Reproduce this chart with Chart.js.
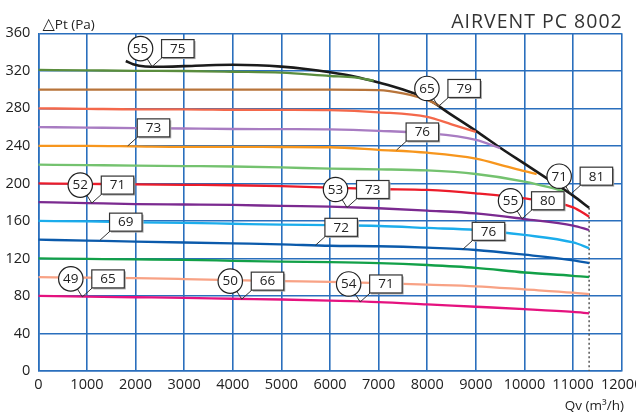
<!DOCTYPE html>
<html>
<head>
<meta charset="utf-8">
<script src="https://cdn.jsdelivr.net/npm/chart.js@4.4.1/dist/chart.umd.min.js"></script>
<style>
html,body{margin:0;padding:0;background:#fff;overflow:hidden;}
#wrap{width:636px;height:412px;overflow:hidden;position:relative;}
#inner{width:660px;height:412px;}
canvas{display:block;}
</style>
</head>
<body>
<div id="wrap"><div id="inner"><canvas id="c" width="660" height="412" style="width:660px;height:412px"></canvas></div></div>
<script>
// ---- data (Qv m3/h, dPt Pa) ----
const qFull = [0,1000,2000,3000,4000,5000,6000,7000,8000,9000,10000,11000,11330];
const pMagenta   = [80,79.2,78.6,78,77,76.2,75,73.5,71,68.5,66,63,61.5];
const pSalmon    = [100,99.5,99,98,96.8,95.8,95,93.6,92,90.3,87,83.5,81.8];
const pGreen     = [120,119.5,119,118.5,117.5,116.5,116,115,113,110,105,101.5,100];
const pDarkBlue  = [140,139,138,137,136,135,133.5,133,131.5,129,124,118,115];
const pLightBlue = [160,159.5,158.5,158,157,156,155.5,154.6,152.5,150.3,145,137,131];
const pPurple    = [180,179,178,177.5,177,176,175.2,173.5,171,168,162,155,150.3];
const pRed       = [200,199.5,199,198.5,198,197,195.5,194,193,189.4,184,174.5,164.5];

const qLightGreen = [0,1000,2000,3000,4000,5000,6000,7000,8000,9000,10000,10500,10800];
const pLightGreen = [220,219.5,219,218.5,218,217,215.7,215,213.8,210,202,196,191.5];

const qOrange = [0,1000,2000,3000,4000,5000,6000,7000,8000,9000,9600,10000,10250];
const pOrange = [240,240,239.5,239,239,238.8,238.5,235.8,232.7,226.5,218.5,213,210];

const qLavender = [0,1000,2000,3000,4000,5000,6000,7000,8000,9000,9500];
const pLavender = [260,259.5,259,258.5,258,257.8,257.5,256,253.5,246.5,237.5];

const qTomato = [0,1000,2000,3000,4000,5000,6000,7000,8000,8500,9000];
const pTomato = [280,279.5,279,279,278.5,278.3,278,275.8,271,263,255];

const qBrown = [0,1000,2000,3000,4000,5000,6000,7000,7500,8000,8250];
const pBrown = [300,300,300,300,300,300,300,299.5,296,289,282.5];

const qOlive = [0,1000,2000,3000,4000,5000,6000,6500,6900];
const pOlive = [321,320.5,320,319.8,319,318,314.5,313,309.5];

const qBlack = [1800,1950,2200,2500,3000,3500,4000,4500,5000,5500,6000,6500,7000,7500,8000,8500,9000,9500,10000,10500,11000,11330];
const pBlack = [330.5,327,324.6,324.3,325,326,326.5,326,324.5,322,318.5,314,307.5,300,290,273,256,238,221,204,187,174];

const qMax = [11330,11330];
const pMax = [174,0];

// callouts: circle value + box value pointing at a curve point
const calloutCircle = [55,65,52,53,55,71,49,50,54];
const calloutBox    = [75,79,71,73,80,81,65,66,71];
const calloutQ      = [2340,8230,1100,6350,9950,10950,905,4185,6620];
const calloutP      = [324.5,282,179,174.3,162.3,188.5,79,76.6,73.6];
// single boxes
const boxValue = [73,76,69,72,76];
const boxQ     = [1840,7370,1270,5700,8730];
const boxP     = [240,235.6,139.5,134,129.7];

const xTicks = [0,1000,2000,3000,4000,5000,6000,7000,8000,9000,10000,11000,12000];
const yTicks = [0,40,80,120,160,200,240,280,320,360];

const title = 'AIRVENT PC 8002';
const yTitleSym = '\u25B3';
const yTitle = 'Pt (Pa)';
const xTitle = 'Qv (m\u00B3/h)';

function pts(xs, ys){ return xs.map((x,i)=>({x:x,y:ys[i]})); }
function ds(label, xs, ys, color, w){
  return {label:label, data:pts(xs,ys), borderColor:color, borderWidth:w||2.3,
    pointRadius:0, fill:false, cubicInterpolationMode:'monotone'};
}

const GRID = '#2a6fbd';
const FONT = '"Open Sans", "DejaVu Sans", sans-serif';

const annot = {
  id:'annot',
  afterDatasetsDraw(chart){
    const ctx = chart.ctx, xs = chart.scales.x, ys = chart.scales.y;
    ctx.save();
    ctx.font = '13.5px ' + FONT;
    ctx.textAlign = 'center';
    ctx.textBaseline = 'middle';
    function drawBox(px, py, val){
      const bx = px + 9.5, by = py - 27, bw = 32.5, bh = 18;
      ctx.fillStyle = '#a8a8a8';
      ctx.fillRect(bx+1.5, by+1.5, bw, bh);
      ctx.fillStyle = '#fff';
      ctx.fillRect(bx, by, bw, bh);
      ctx.strokeStyle = '#333'; ctx.lineWidth = 1.2;
      ctx.strokeRect(bx, by, bw, bh);
      ctx.fillStyle = '#222';
      ctx.fillText(String(val), bx + bw/2, by + bh/2 + 0.5);
    }
    function drawCircle(px, py, val){
      const cx = px - 11.5, cy = py - 18;
      ctx.beginPath(); ctx.arc(cx, cy, 12.2, 0, Math.PI*2);
      ctx.fillStyle = '#fff'; ctx.fill();
      ctx.strokeStyle = '#222'; ctx.lineWidth = 1.2; ctx.stroke();
      ctx.fillStyle = '#222';
      ctx.fillText(String(val), cx, cy + 0.5);
    }
    for (let i=0;i<calloutCircle.length;i++){
      const px = xs.getPixelForValue(calloutQ[i]), py = ys.getPixelForValue(calloutP[i]);
      ctx.beginPath();
      ctx.moveTo(px-5, py-8); ctx.lineTo(px, py); ctx.lineTo(px+10, py-9);
      ctx.strokeStyle = '#333'; ctx.lineWidth = 1; ctx.stroke();
      drawCircle(px, py, calloutCircle[i]);
      drawBox(px, py, calloutBox[i]);
    }
    for (let i=0;i<boxValue.length;i++){
      const px = xs.getPixelForValue(boxQ[i]), py = ys.getPixelForValue(boxP[i]);
      ctx.beginPath();
      ctx.moveTo(px, py); ctx.lineTo(px+10, py-9);
      ctx.strokeStyle = '#333'; ctx.lineWidth = 1; ctx.stroke();
      drawBox(px, py, boxValue[i]);
    }
    // titles
    const a = chart.chartArea;
    ctx.textBaseline = 'alphabetic';
    ctx.fillStyle = '#333';
    ctx.textAlign = 'right';
    ctx.font = '19.5px ' + FONT;
    try { ctx.letterSpacing = '1px'; } catch(e) {}
    ctx.fillText(title, a.right + 1, 27.5);
    try { ctx.letterSpacing = '0px'; } catch(e) {}
    ctx.textAlign = 'left';
    ctx.fillStyle = '#222';
    ctx.font = '16px "DejaVu Sans", sans-serif';
    ctx.fillText(yTitleSym, 42.5, 29);
    const w = ctx.measureText(yTitleSym).width;
    ctx.font = '13.5px ' + FONT;
    ctx.fillText(yTitle, 42.5 + w, 28.5);
    ctx.textAlign = 'right';
    ctx.fillText(xTitle, 624, 409.5);
    ctx.restore();
  }
};

new Chart(document.getElementById('c'), {
  type:'line',
  data:{ datasets:[
    ds('magenta', qFull, pMagenta, '#e5127f'),
    ds('salmon', qFull, pSalmon, '#f8a285'),
    ds('green', qFull, pGreen, '#12a048'),
    ds('darkblue', qFull, pDarkBlue, '#0b5aab'),
    ds('lightblue', qFull, pLightBlue, '#1badec'),
    ds('purple', qFull, pPurple, '#7b2a90'),
    ds('red', qFull, pRed, '#ec1c2a'),
    ds('lightgreen', qLightGreen, pLightGreen, '#74c26f'),
    ds('orange', qOrange, pOrange, '#f7961d'),
    ds('lavender', qLavender, pLavender, '#a87cc2'),
    ds('tomato', qTomato, pTomato, '#f4684b'),
    ds('brown', qBrown, pBrown, '#b8743a'),
    ds('olive', qOlive, pOlive, '#5a8d3d'),
    ds('black', qBlack, pBlack, '#1b1b1b', 2.6),
    {label:'max', data:pts(qMax,pMax), borderColor:'#555', borderWidth:1.5, borderDash:[2,2.5], pointRadius:0, fill:false}
  ]},
  options:{
    responsive:false, animation:false, devicePixelRatio:1,
    layout:{padding:{top:33.3, right:38.3, left:0, bottom:0}},
    plugins:{legend:{display:false}, tooltip:{enabled:false}},
    scales:{
      x:{type:'linear', min:0, max:12000,
        afterFit(s){ s.height = 41; },
        afterBuildTicks(s){ s.ticks = xTicks.map(v=>({value:v})); },
        grid:{color:GRID, lineWidth:1.6, drawTicks:false},
        border:{color:GRID, width:1.6},
        ticks:{padding:5, font:{family:FONT, size:14.5}, color:'#222', maxRotation:0, autoSkip:false,
          callback:(v)=>String(v)}
      },
      y:{type:'linear', min:0, max:360,
        afterFit(s){ s.width = 38.3; },
        afterBuildTicks(s){ s.ticks = yTicks.map(v=>({value:v})); },
        grid:{color:GRID, lineWidth:1.6, drawTicks:false},
        border:{color:GRID, width:1.6},
        ticks:{padding:8, font:{family:FONT, size:14.5}, color:'#222', callback:(v)=>String(v)}
      }
    }
  },
  plugins:[annot]
});
</script>
</body>
</html>
